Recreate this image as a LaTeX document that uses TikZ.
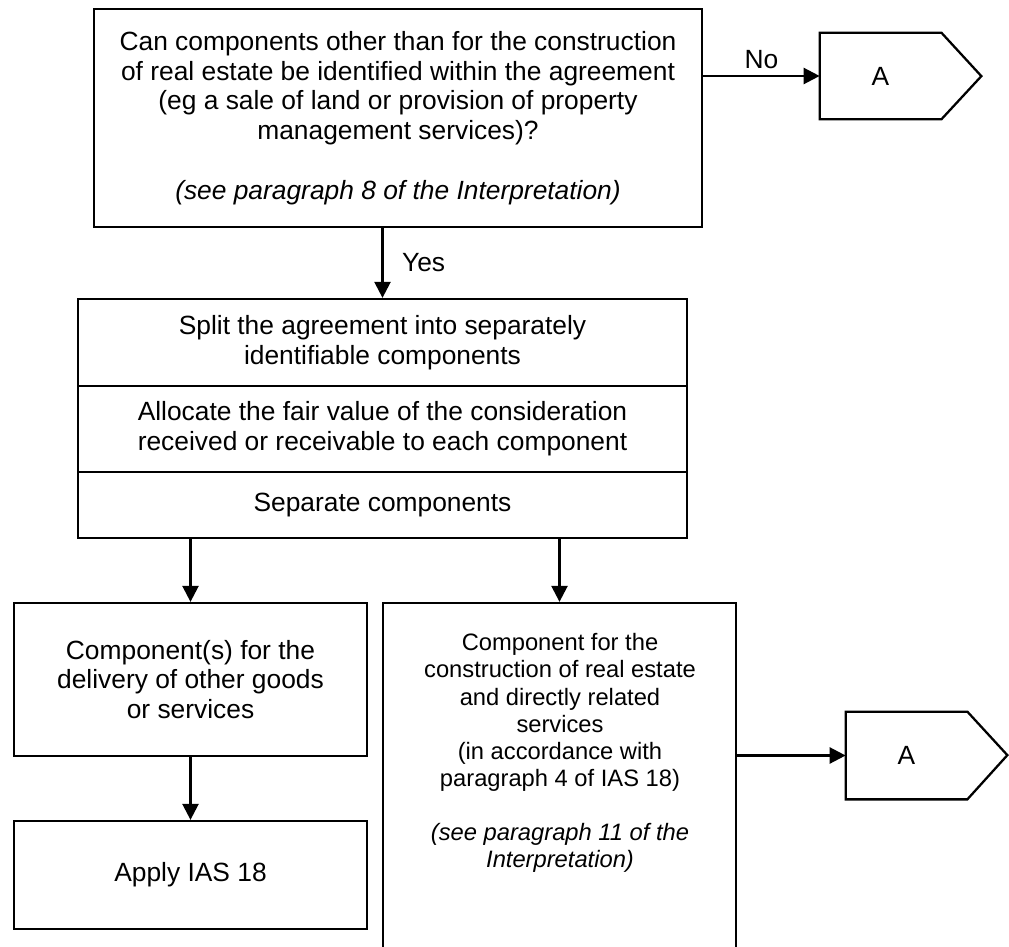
\documentclass[tikz,border=0pt]{standalone}
\usepackage{fontspec}
\setmainfont{Liberation Sans}
\usetikzlibrary{arrows.meta}

\tikzset{
  box/.style={draw, line width=1.3pt, align=center, inner sep=0pt},
  line/.style={line width=1.3pt, line join=miter},
  arr/.style={line width=1.4pt, -{Triangle[length=3.2mm,width=3.2mm]}},
}

\begin{document}
\begin{tikzpicture}[x=0.2mm, y=-0.2mm, font=\fontsize{15}{17}\selectfont]
\useasboundingbox (0,0) rectangle (1009,947);
\clip (0,0) rectangle (1009,947);

% question
\node[box, minimum width=121.6mm, minimum height=43.6mm] (quest) at (398,118)
  {Can components other than for the construction\\
   of real estate be identified within the agreement\\
   (eg a sale of land or provision of property\\
   management services)?\\[17pt]
   {\itshape (see paragraph 8 of the Interpretation)}};

% exits
\node[minimum width=24.2mm, minimum height=17.2mm, inner sep=0pt] (outA) at (880.5,76) {A};
\node[minimum width=24.2mm, minimum height=17.4mm, inner sep=0pt] (outB) at (906.5,755.5) {A};

\foreach \p in {outA,outB}
  \draw[line] (\p.north west) -- (\p.north east) -- ++(40,43.5)
    -- (\p.south east) -- (\p.south west) -- cycle;

% splitting
\node[box, minimum width=121.8mm, minimum height=17.4mm] (split) at (382.5,342.5)
  {Split the agreement into separately\\ identifiable components};
\node[box, minimum width=121.8mm, minimum height=17.2mm] (alloc) at (382.5,429)
  {Allocate the fair value of the consideration\\ received or receivable to each component};
\node[box, minimum width=121.8mm, minimum height=13.2mm] (sep) at (382.5,505)
  {Separate components};

% components
\node[box, minimum width=70.6mm, minimum height=30.6mm] (comp) at (190.5,679.5)
  {Component(s) for the\\ delivery of other goods\\ or services};
\node[box, minimum width=70.6mm, minimum height=21.6mm] (apply) at (190.5,875)
  {Apply IAS 18};
\node[box, minimum width=70.6mm, minimum height=80mm] (rbox) at (559.5,803) {};
\node[align=center, font=\fontsize{13.5}{15.4}\selectfont] (rtext) at (560,753)
  {Component for the\\ construction of real estate\\ and directly related\\ services\\
   (in accordance with\\ paragraph 4 of IAS 18)\\[15.4pt]
   {\itshape (see paragraph 11 of the}\\ {\itshape Interpretation)}};

% connectors
\draw[arr] (outA.west -| quest.east) -- node[above=0mm] {No} (outA.west);
\draw[arr] (split.north |- quest.south) -- node[right=2.5mm] {Yes} (split.north);
\draw[arr] (comp.north |- sep.south) -- (comp.north);
\draw[arr] (rbox.north |- sep.south) -- (rbox.north);
\draw[arr] (comp.south) -- (apply.north);
\draw[arr] (outB.west -| rbox.east) -- (outB.west);
\end{tikzpicture}
\end{document}
